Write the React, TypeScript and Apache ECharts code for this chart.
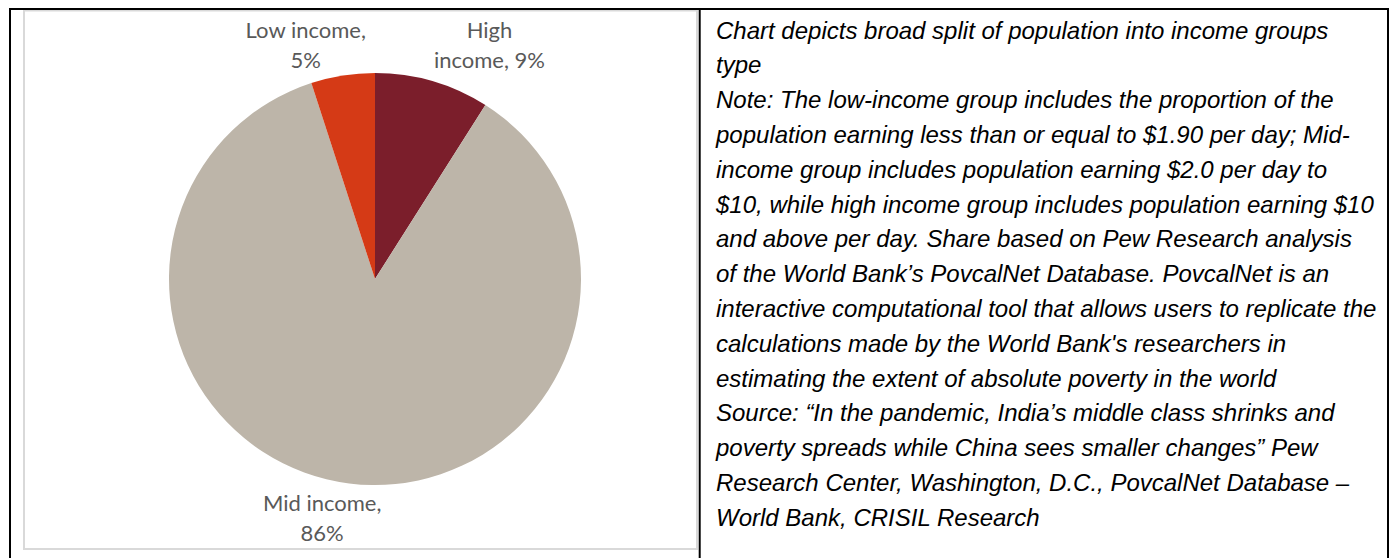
import React, { useEffect, useRef } from "react";
import * as echarts from "echarts";

// Income group split (share of population, %)
const groups = ["High income", "Mid income", "Low income"];
const shares = [9, 86, 5];
const sliceColors = ["#7B1E2B", "#BDB5A9", "#D53A16"];

// Explanatory note beside the chart, one entry per printed line
const noteLines = [
  "Chart depicts broad split of population into income groups",
  "type",
  "Note: The low-income group includes the proportion of the",
  "population earning less than or equal to $1.90 per day; Mid-",
  "income group includes population earning $2.0 per day to",
  "$10, while high income group includes population earning $10",
  "and above per day. Share based on Pew Research analysis",
  "of the World Bank\u2019s PovcalNet Database. PovcalNet is an",
  "interactive computational tool that allows users to replicate the",
  "calculations made by the World Bank's researchers in",
  "estimating the extent of absolute poverty in the world",
  "Source: \u201cIn the pandemic, India\u2019s middle class shrinks and",
  "poverty spreads while China sees smaller changes\u201d Pew",
  "Research Center, Washington, D.C., PovcalNet Database \u2013",
  "World Bank, CRISIL Research",
];

const W = 1389;
const H = 558;
const PIE_CX = 375;
const PIE_CY = 279;
const PIE_R = 206;

// Nudges of each data label away from the rim point at its slice's mid-angle
const labelNudge = [
  [57, -37],
  [-27, 34],
  [-37, -31],
];

export default function App() {
  const ref = useRef<HTMLDivElement>(null);

  useEffect(() => {
    if (!ref.current) return;
    const chart = echarts.init(ref.current, undefined, { renderer: "svg" });
    const total = shares.reduce((a, b) => a + b, 0);
    const midAngles: number[] = [];
    let acc = 0;
    shares.forEach((v) => {
      midAngles.push(((acc + v / 2) / total) * Math.PI * 2);
      acc += v;
    });

    const noteTop = 30;
    const noteStep = 34.8;

    chart.setOption({
      animation: false,
      backgroundColor: "#ffffff",
      series: [
        {
          type: "pie",
          center: [PIE_CX, PIE_CY],
          radius: PIE_R,
          startAngle: 90,
          clockwise: true,
          silent: true,
          data: groups.map((g, i) => ({
            name: g,
            value: shares[i],
            itemStyle: { color: sliceColors[i] },
          })),
          label: {
            show: true,
            position: "outside",
            fontFamily: "Lato, 'Open Sans', sans-serif",
            fontSize: 22,
            lineHeight: 30,
            color: "#595959",
            align: "center",
            formatter: (p: any) =>
              p.dataIndex === 0
                ? `High\nincome, ${p.value}%`
                : `${p.name},\n${p.value}%`,
          },
          labelLine: { show: false },
          labelLayout: (p: any) => {
            const a = midAngles[p.dataIndex];
            const [dx, dy] = labelNudge[p.dataIndex];
            return {
              x: PIE_CX + PIE_R * Math.sin(a) + dx,
              y: PIE_CY - PIE_R * Math.cos(a) + dy,
              align: "center",
              verticalAlign: "middle",
            };
          },
        },
      ],
      graphic: [
        // chart area frame
        {
          type: "rect",
          shape: { x: 24, y: 10.5, width: 673, height: 538.5 },
          style: { fill: "none", stroke: "#d9d9d9", lineWidth: 2 },
          silent: true,
        },
        // table rules
        { type: "line", shape: { x1: 9, y1: 9, x2: 1389, y2: 9 }, style: { stroke: "#000", lineWidth: 2 } },
        { type: "line", shape: { x1: 10, y1: 8, x2: 10, y2: H }, style: { stroke: "#000", lineWidth: 2 } },
        { type: "line", shape: { x1: 699.7, y1: 8, x2: 699.7, y2: H }, style: { stroke: "#000", lineWidth: 2 } },
        { type: "line", shape: { x1: 1388, y1: 8, x2: 1388, y2: H }, style: { stroke: "#000", lineWidth: 2 } },
        ...noteLines.map((t, i) => ({
          type: "text",
          x: 716,
          y: noteTop + i * noteStep,
          silent: true,
          style: {
            text: t,
            fill: "#000000",
            font: "italic 24px 'Liberation Sans', Arial, sans-serif",
            textVerticalAlign: "middle",
            verticalAlign: "middle",
          },
        })),
      ],
    });
    return () => chart.dispose();
  }, []);

  return (
    <div
      ref={ref}
      style={{ position: "absolute", left: 0, top: 0, width: W, height: H, background: "#fff" }}
    />
  );
}
